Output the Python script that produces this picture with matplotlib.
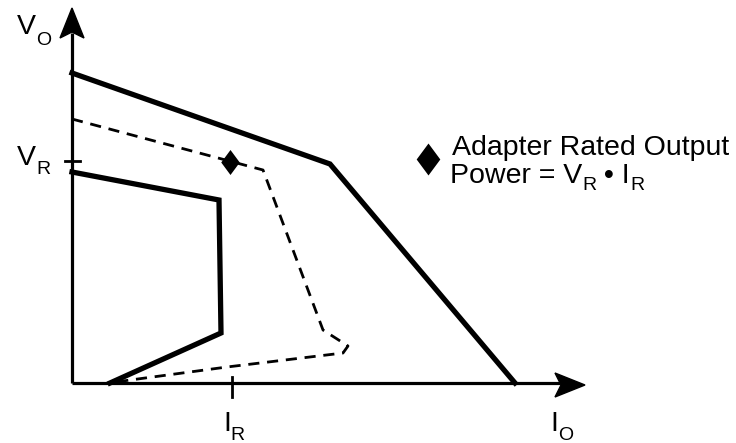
import matplotlib
matplotlib.use("Agg")
import matplotlib.pyplot as plt
from matplotlib.patches import Polygon

plt.rcParams['font.family'] = ['Liberation Sans', 'DejaVu Sans']

# schematic units: origin at the axis crossing, roughly one unit per pixel
outer_io = [0, 258, 443]
outer_vo = [310, 219, 0]

inner_io = [0, 147, 149, 38]
inner_vo = [211, 183, 50, 0]

dash_io = [0, 191, 251, 276, 271, 155, 36]
dash_vo = [264, 213, 53, 37, 30, 16, 0]

rated_io = 160
rated_vo = 222

io_max = 513
vo_max = 375

fs = 20.5
fs_sub = 14
diamond = [(0, 1), (0.74, 0), (0, -1), (-0.74, 0), (0, 1)]

fig = plt.figure(figsize=(7.36, 4.43), dpi=100)
ax = fig.add_axes([0, 0, 1, 1])
ax.set_xlim(-72, 664)
ax.set_ylim(-60, 383)
ax.axis('off')
renderer = fig.canvas.get_renderer()


def put(x, y, parts):
    # parts: (text, size, drop) drawn one after another on a shared baseline
    for s, size, drop in parts:
        t = ax.text(x, y - drop, s, fontsize=size, ha='left', va='baseline')
        x += t.get_window_extent(renderer).width  # 1 unit == 1 px here


# axes with arrow heads
ax.plot([0, 0], [0, vo_max - 25], color='black', lw=2.3, solid_capstyle='butt')
ax.plot([0, io_max - 25], [0, 0], color='black', lw=2.3, solid_capstyle='butt')
ax.add_patch(Polygon([(0, vo_max), (-12, vo_max - 30), (0, vo_max - 24), (12, vo_max - 30)],
                     closed=True, color='black'))
ax.add_patch(Polygon([(io_max, -2), (io_max - 30, 10), (io_max - 24, -2), (io_max - 30, -14)],
                     closed=True, color='black'))

# tick marks at rated point
ax.plot([-7, 8], [rated_vo, rated_vo], color='black', lw=2)
ax.plot([rated_io, rated_io], [-14, 6], color='black', lw=2)

ax.plot(outer_io, outer_vo, color='black', lw=3.8, solid_joinstyle='miter')
ax.plot(inner_io, inner_vo, color='black', lw=3.8, solid_joinstyle='miter')
ax.plot(dash_io, dash_vo, color='black', lw=2, dashes=(4, 2.8))
ax.plot([rated_io - 2], [rated_vo - 1], marker=diamond, color='black',
        markersize=18, markeredgewidth=0, linestyle='none')

put(-55, 349, [('V', fs, 0), ('O', fs_sub, 11)])
put(-55, 218, [('V', fs, 0), ('R', fs_sub, 9)])
put(151, -48, [('I', fs, 0), ('R', fs_sub, 9)])
put(478, -48, [('I', fs, 0), ('O', fs_sub, 9)])

# legend
ax.plot([356], [224], marker=diamond, color='black', markersize=23,
        markeredgewidth=0, linestyle='none')
put(380, 228, [('Adapter Rated Output', fs, 0)])
put(378, 200, [('Power = V', fs, 0), ('R', fs_sub, 7), (' • I', fs, 0), ('R', fs_sub, 7)])

fig.savefig('out.png', dpi=100, facecolor='white')
